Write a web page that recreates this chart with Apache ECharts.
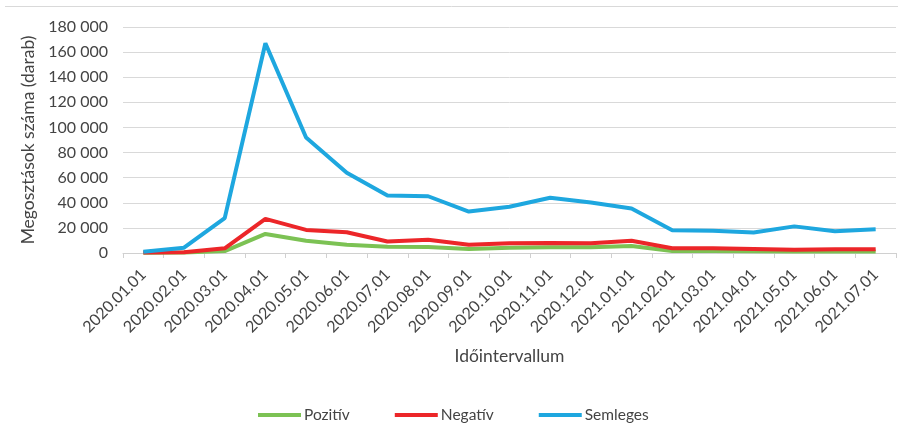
<!DOCTYPE html>
<html>
<head>
<meta charset="utf-8">
<script src="https://cdn.jsdelivr.net/npm/echarts@6/dist/echarts.min.js"></script>
<style>
  html, body { margin: 0; padding: 0; background: #fff; }
  #chart { width: 898px; height: 436px; }
</style>
</head>
<body>
<div id="chart"></div>
<script>
// hónapok (x tengely)
const months = [
    "2020.01.01", "2020.02.01", "2020.03.01", "2020.04.01", "2020.05.01",
    "2020.06.01", "2020.07.01", "2020.08.01", "2020.09.01", "2020.10.01",
    "2020.11.01", "2020.12.01", "2021.01.01", "2021.02.01", "2021.03.01",
    "2021.04.01", "2021.05.01", "2021.06.01", "2021.07.01"
];
// megosztások száma hangulat szerint
const pozitiv = [200, 300, 1500, 15200, 9800, 6600, 5000, 4800, 3200, 4200, 4600, 4600, 5600, 1600, 1500, 1300, 1100, 1200, 1200];
const negativ = [300, 600, 3700, 27200, 18400, 16500, 9200, 10600, 6600, 7700, 7900, 7800, 9800, 3800, 3700, 3200, 2600, 3000, 3000];
const semleges = [1000, 4200, 27800, 167000, 92000, 64000, 45800, 45200, 33000, 36800, 44000, 40200, 35400, 18200, 17800, 16400, 21200, 17400, 19000];
const seriesNames = ["Pozitív", "Negatív", "Semleges"];
const colors = ["#7cc254", "#ec2629", "#1ea7df"];

const FONT = "Lato";
const TEXT = "#444444";

function fmt(v) {
    return String(v).replace(/\B(?=(\d{3})+(?!\d))/g, " ");
}

const chart = echarts.init(document.getElementById("chart"), null, { renderer: "canvas" });

chart.setOption({
    animation: false,
    textStyle: { fontFamily: FONT },
    color: colors,
    grid: { left: 123, right: 2, top: 27, bottom: 183, containLabel: false },
    graphic: [{
        type: "line",
        shape: { x1: 5, y1: 6.5, x2: 898, y2: 6.5 },
        style: { stroke: "#d9d9d9", lineWidth: 1 }
    }],
    legend: {
        left: 253,
        top: 402,
        itemWidth: 43,
        itemHeight: 4,
        itemGap: 45,
        icon: "rect",
        textStyle: { fontFamily: FONT, fontSize: 15.5, color: TEXT, padding: [0, 0, 0, -2] },
        data: seriesNames
    },
    xAxis: {
        type: "category",
        data: months,
        boundaryGap: true,
        name: "Időintervallum",
        nameLocation: "middle",
        nameGap: 94,
        nameTextStyle: { fontFamily: FONT, fontSize: 17.5, color: TEXT },
        axisLine: { lineStyle: { color: "#d0d0d0", width: 1 } },
        axisTick: { show: true, alignWithLabel: false, length: 5, lineStyle: { color: "#d0d0d0" } },
        axisLabel: { rotate: 45, fontSize: 16, color: TEXT, margin: 19, interval: 0 }
    },
    yAxis: {
        type: "value",
        min: 0,
        max: 180000,
        interval: 20000,
        name: "Megosztások száma (darab)",
        nameLocation: "middle",
        nameGap: 82,
        nameTextStyle: { fontFamily: FONT, fontSize: 17.5, color: TEXT },
        axisLine: { show: false },
        axisTick: { show: false },
        splitLine: { lineStyle: { color: "#d9d9d9", width: 1 } },
        axisLabel: { fontSize: 16, color: TEXT, margin: 15, formatter: fmt }
    },
    series: [
        { name: seriesNames[0], type: "line", data: pozitiv, symbol: "none", lineStyle: { width: 4, color: colors[0] } },
        { name: seriesNames[1], type: "line", data: negativ, symbol: "none", lineStyle: { width: 4, color: colors[1] } },
        { name: seriesNames[2], type: "line", data: semleges, symbol: "none", lineStyle: { width: 4, color: colors[2] } }
    ]
});
</script>
</body>
</html>
